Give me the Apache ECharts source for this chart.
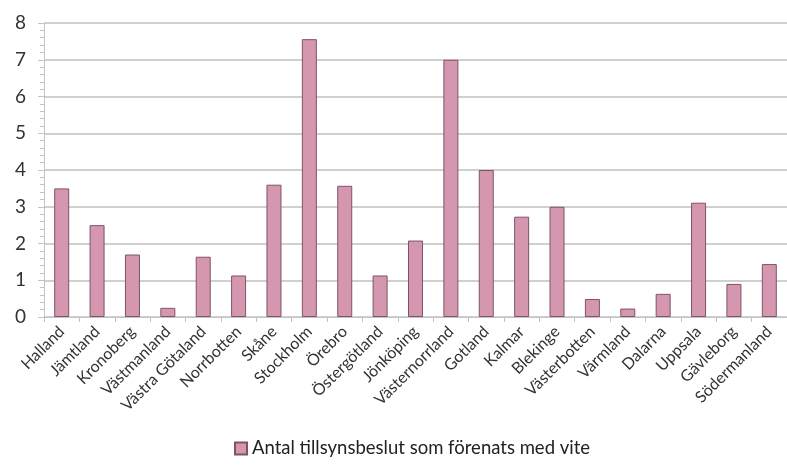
<!DOCTYPE html>
<html>
<head>
<meta charset="utf-8">
<script src="https://cdn.jsdelivr.net/npm/echarts@6/dist/echarts.min.js"></script>
<style>html,body{margin:0;padding:0;background:#fff;}#c{width:787px;height:466px;}</style>
</head>
<body>
<div id="c"></div>
<script>
const categories = ["Halland","Jämtland","Kronoberg","Västmanland","Västra Götaland","Norrbotten","Skåne","Stockholm","Örebro","Östergötland","Jönköping","Västernorrland","Gotland","Kalmar","Blekinge","Västerbotten","Värmland","Dalarna","Uppsala","Gävleborg","Södermanland"];
const values = [3.5,2.5,1.7,0.25,1.64,1.13,3.6,7.56,3.57,1.13,2.08,7.0,4.0,2.73,3.0,0.49,0.23,0.63,3.11,0.9,1.44];
const seriesName = "Antal tillsynsbeslut som förenats med vite";
const yTicks = [0,1,2,3,4,5,6,7,8];

const chart = echarts.init(document.getElementById('c'), null, {renderer:'canvas'});
chart.setOption({
  animation:false,
  grid:{left:44, top:23, width:747, height:294},
  legend:{
    data:[seriesName], left:229, bottom:3,
    icon:'rect', itemWidth:12, itemHeight:12, itemGap:4,
    textStyle:{fontSize:18.5, color:'#222', fontFamily:'Lato'}
  },
  xAxis:{
    type:'category', data:categories, boundaryGap:true,
    axisLine:{lineStyle:{color:'#c4c4c4', width:1}},
    axisTick:{show:true, interval:0, length:5, lineStyle:{color:'#c4c4c4'}},
    axisLabel:{interval:0, rotate:45, fontSize:16, color:'#333', fontFamily:'Lato', margin:12}
  },
  yAxis:{
    type:'value', min:yTicks[0], max:yTicks[yTicks.length-1], interval:1,
    axisLine:{show:true, lineStyle:{color:'#c4c4c4', width:1}},
    axisTick:{show:true, length:6, lineStyle:{color:'#c4c4c4'}},
    minorTick:{show:true, splitNumber:5, length:4, lineStyle:{color:'#c4c4c4'}},
    splitLine:{lineStyle:{color:'#d0d0d0', width:2}},
    axisLabel:{fontSize:19, color:'#333', fontFamily:'Lato', margin:18}
  },
  series:[{
    name:seriesName, type:'bar', data:values, barWidth:15,
    itemStyle:{color:'#d597b0', borderColor:'#7d5466', borderWidth:1}
  }]
});
</script>
</body>
</html>
